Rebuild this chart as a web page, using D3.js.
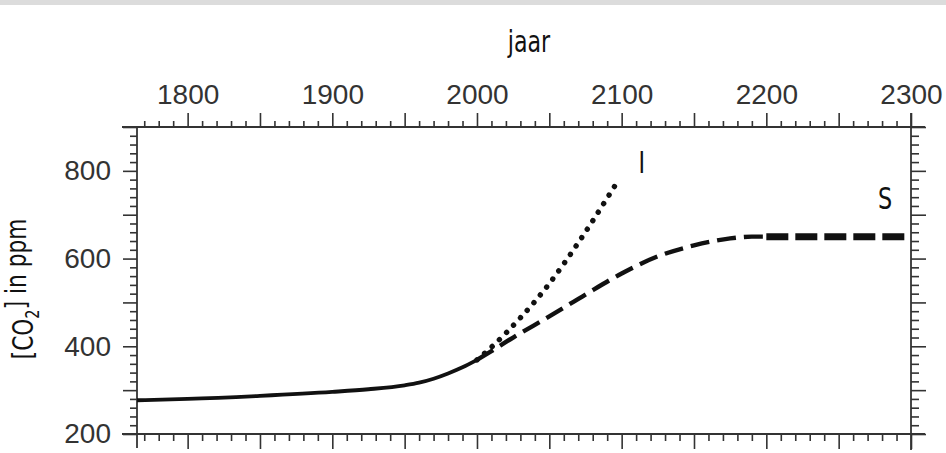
<!DOCTYPE html>
<html>
<head>
<meta charset="utf-8">
<script src="https://cdn.jsdelivr.net/npm/d3@7"></script>
<style>
  body { margin: 0; background: #fff; }
  .tick text { font-family: "Liberation Sans", Arial, sans-serif; font-size: 28px; fill: #333; }
  .tick line { stroke: #333; stroke-width: 1.6; }
  .cond { font-family: "DejaVu Sans Condensed", "DejaVu Sans", sans-serif; font-stretch: condensed; fill: #111; }
</style>
</head>
<body>
<div id="chart"></div>
<script>
// historical record
var histYears = [1765, 1800, 1850, 1900, 1925, 1950, 1960, 1970, 1980, 1990, 2000];
var histCO2 = [277, 280, 287, 296, 302, 311, 317, 326, 338, 352, 369];
// scenario I (dotted)
var iYears = [2000, 2010, 2020, 2030, 2040, 2050, 2060, 2070, 2080, 2090, 2098];
var iCO2 = [369, 398, 430, 465, 502, 543, 588, 636, 686, 738, 780];
// scenario S (dashed), then flat
var sYears = [2000, 2010, 2025, 2050, 2075, 2100, 2125, 2150, 2175, 2190, 2200];
var sCO2 = [369, 389, 420, 468, 518, 566, 605, 630, 646, 650, 650];
var sFlatYears = [2200, 2300];
var sFlatCO2 = [650, 650];

var xLabelTicks = [1800, 1900, 2000, 2100, 2200, 2300];
var yLabelTicks = [200, 400, 600, 800];

var width = 946;
var height = 453;
var frame = { left: 137, right: 911, top: 127, bottom: 434 };

var x = d3.scaleLinear().domain([1765, 2300]).range([frame.left, frame.right]);
var y = d3.scaleLinear().domain([200, 900]).range([frame.bottom, frame.top]);

var xMajor = d3.range(1800, 2301, 50);
var xMinor = d3.range(1770, 2301, 10).filter(d => d % 50 !== 0);
var yMajor = d3.range(200, 901, 100);
var yMinor = d3.range(220, 900, 20).filter(d => d % 100 !== 0);

var svg = d3.select("#chart").append("svg")
  .attr("width", width)
  .attr("height", height);

// grey strip along the top
svg.append("rect")
  .attr("x", 0).attr("y", 0)
  .attr("width", width).attr("height", 5)
  .attr("fill", "#dcdcdc");

function addAxis(axis, tx, ty) {
  var g = svg.append("g")
    .attr("transform", "translate(" + tx + "," + ty + ")")
    .call(axis);
  g.select(".domain").remove();
  return g;
}

// top axis with labels
addAxis(d3.axisTop(x).tickValues(xMinor).tickSize(6).tickFormat(""), 0, frame.top);
addAxis(d3.axisTop(x).tickValues(xMajor).tickSize(14).tickPadding(9)
  .tickFormat(d => xLabelTicks.indexOf(d) >= 0 ? d : ""), 0, frame.top);

// bottom axis, ticks only
addAxis(d3.axisBottom(x).tickValues(xMinor).tickSize(7).tickFormat(""), 0, frame.bottom);
addAxis(d3.axisBottom(x).tickValues(xMajor).tickSize(15).tickFormat(""), 0, frame.bottom);

// left axis with labels
addAxis(d3.axisLeft(y).tickValues(yMinor).tickSize(7).tickFormat(""), frame.left, 0);
addAxis(d3.axisLeft(y).tickValues(yMajor).tickSize(14).tickPadding(12)
  .tickFormat(d => yLabelTicks.indexOf(d) >= 0 ? d : ""), frame.left, 0);

// right axis, ticks only
addAxis(d3.axisRight(y).tickValues(yMinor).tickSize(8).tickFormat(""), frame.right, 0);
addAxis(d3.axisRight(y).tickValues(yMajor).tickSize(15).tickFormat(""), frame.right, 0);

// frame lines, running a bit past the corners
var frameLines = [
  [frame.left - 15, frame.top, frame.right + 14, frame.top],
  [frame.left - 15, frame.bottom, frame.right + 14, frame.bottom],
  [frame.left, frame.top - 1, frame.left, frame.bottom + 14],
  [frame.right, frame.top - 14, frame.right, frame.bottom + 16]
];
svg.selectAll(".frame-line")
  .data(frameLines)
  .enter().append("line")
  .attr("class", "frame-line")
  .attr("x1", d => d[0]).attr("y1", d => d[1])
  .attr("x2", d => d[2]).attr("y2", d => d[3])
  .attr("stroke", "#333")
  .attr("stroke-width", 1.8);

var line = d3.line()
  .x(d => x(d[0]))
  .y(d => y(d[1]))
  .curve(d3.curveMonotoneX);

function pairs(xs, ys) {
  return xs.map((d, i) => [d, ys[i]]);
}

svg.append("path")
  .datum(pairs(histYears, histCO2))
  .attr("d", line)
  .attr("fill", "none")
  .attr("stroke", "#111")
  .attr("stroke-width", 3.8);

svg.append("path")
  .datum(pairs(iYears, iCO2))
  .attr("d", line)
  .attr("fill", "none")
  .attr("stroke", "#111")
  .attr("stroke-width", 5.4)
  .attr("stroke-linecap", "round")
  .attr("stroke-dasharray", "0.1,10");

svg.append("path")
  .datum(pairs(sYears, sCO2))
  .attr("d", line)
  .attr("fill", "none")
  .attr("stroke", "#111")
  .attr("stroke-width", 4.4)
  .attr("stroke-dasharray", "19,8");

svg.append("path")
  .datum(pairs(sFlatYears, sFlatCO2))
  .attr("d", line)
  .attr("fill", "none")
  .attr("stroke", "#111")
  .attr("stroke-width", 7)
  .attr("stroke-dasharray", "22,7");

// scenario labels
svg.append("text")
  .attr("class", "cond")
  .attr("transform", "translate(" + x(2114) + "," + y(796) + ") scale(0.8,1)")
  .attr("text-anchor", "middle")
  .style("font-size", "31px")
  .text("I");

svg.append("text")
  .attr("class", "cond")
  .attr("transform", "translate(" + x(2282) + "," + y(712) + ") scale(0.8,1)")
  .attr("text-anchor", "middle")
  .style("font-size", "31px")
  .text("S");

// axis titles
svg.append("text")
  .attr("class", "cond")
  .attr("transform", "translate(529,52) scale(0.82,1)")
  .attr("text-anchor", "middle")
  .style("font-size", "30px")
  .style("font-weight", "500")
  .text("jaar");

var yTitle = svg.append("text")
  .attr("class", "cond")
  .attr("transform", "translate(33,289) rotate(-90) scale(0.86,1)")
  .attr("text-anchor", "middle")
  .style("font-size", "28px");
yTitle.append("tspan").text("[CO");
yTitle.append("tspan").attr("dy", "0.3em").style("font-size", "19px").text("2");
yTitle.append("tspan").attr("dy", "-0.45em").text("] in ppm");
</script>
</body>
</html>
